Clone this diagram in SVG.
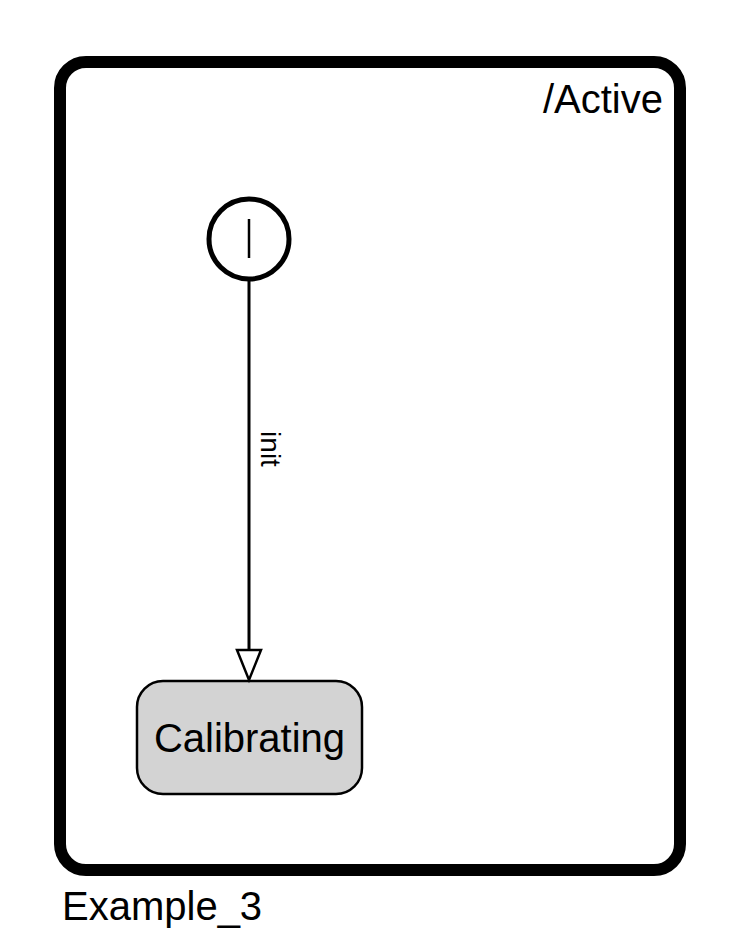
<svg xmlns="http://www.w3.org/2000/svg" width="740" height="946" viewBox="0 0 740 946">
<style>
text{font-family:"Liberation Sans",Arial,sans-serif;fill:#000}
.lbl{font-size:40px}
</style>
<rect width="740" height="946" fill="#fff"/>
<g id="Active">
<rect x="60" y="62" width="620" height="808" rx="26" ry="26" fill="#fff" stroke="#000" stroke-width="12"/>
<text class="lbl" x="663" y="113" text-anchor="end">/Active</text>
</g>
<g id="initial">
<circle cx="249" cy="239" r="40" fill="#fff" stroke="#000" stroke-width="5"/>
<line x1="249" y1="219" x2="249" y2="258" stroke="#000" stroke-width="2.5"/>
</g>
<g id="Calibrating">
<rect x="137" y="681" width="225" height="113" rx="26" ry="26" fill="#d3d3d3" stroke="#000" stroke-width="2.5"/>
<text class="lbl" x="249.5" y="752" text-anchor="middle">Calibrating</text>
</g>
<g id="connectors">
<line x1="249" y1="281" x2="249" y2="650" stroke="#000" stroke-width="3"/>
<polygon points="237,650 261,650 249,680" fill="#fff" stroke="#000" stroke-width="2.5" stroke-linejoin="miter"/>
<text x="261" y="449" font-size="28" text-anchor="middle" transform="rotate(90 261 449)">init</text>
</g>
<text class="lbl" x="62" y="920">Example_3</text>
</svg>
